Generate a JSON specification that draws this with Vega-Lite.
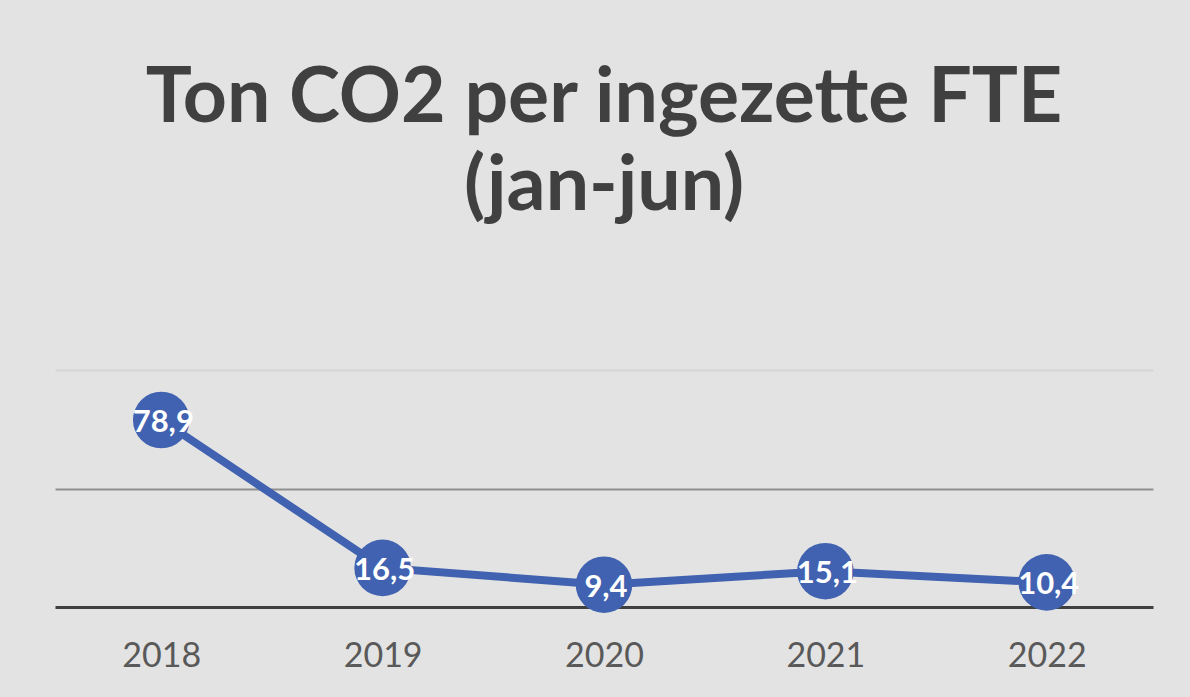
{
  "$schema": "https://vega.github.io/schema/vega-lite/v6.json",
  "autosize": {"type": "none"},
  "width": 1098,
  "height": 237,
  "padding": {"left": 55, "right": 37, "top": 370, "bottom": 90},
  "background": "#e3e3e3",
  "title": {
    "text": ["Ton CO2 per ingezette FTE", "(jan-jun)"],
    "font": "Lato",
    "fontSize": 77,
    "fontWeight": "bold",
    "color": "#404040",
    "lineHeight": 88,
    "anchor": "middle",
    "offset": 144
  },
  "data": {
    "values": [
      {"year": "2018", "value": 78.9},
      {"year": "2019", "value": 16.5},
      {"year": "2020", "value": 9.4},
      {"year": "2021", "value": 15.1},
      {"year": "2022", "value": 10.4}
    ]
  },
  "encoding": {
    "x": {
      "field": "year",
      "type": "ordinal",
      "scale": {"type": "point", "padding": 0.48},
      "axis": {
        "title": null,
        "labelAngle": 0,
        "labelFont": "Lato",
        "labelFontSize": 34,
        "labelColor": "#595959",
        "labelPadding": 32,
        "ticks": false,
        "tickSize": 0,
        "domainColor": "#404040",
        "domainWidth": 3,
        "zindex": 0
      }
    },
    "y": {
      "field": "value",
      "type": "quantitative",
      "scale": {"domain": [0, 100], "nice": false},
      "axis": {
        "title": null,
        "labels": false,
        "ticks": false,
        "domain": false,
        "values": [50, 100],
        "gridColor": {"condition": {"test": "datum.value === 100", "value": "#d6d6d6"}, "value": "#8f8f8f"},
        "gridWidth": 2,
        "gridOpacity": 1
      }
    }
  },
  "layer": [
    {"mark": {"type": "line", "color": "#4162b0", "strokeWidth": 8}},
    {"mark": {"type": "circle", "color": "#4162b0", "opacity": 1, "size": 3200}},
    {
      "mark": {"type": "text", "color": "white", "font": "Lato", "fontSize": 31, "fontWeight": "bold", "dx": 2, "dy": 3},
      "encoding": {"text": {"field": "value", "type": "quantitative", "format": ".1f"}}
    }
  ],
  "config": {
    "locale": {"number": {"decimal": ",", "thousands": ".", "grouping": [3], "currency": ["€", ""]}},
    "view": {"stroke": null}
  }
}
